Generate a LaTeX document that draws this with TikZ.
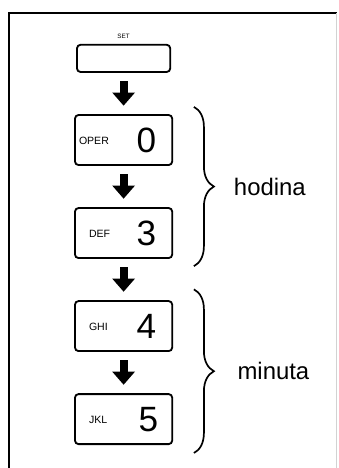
\documentclass[tikz,border=0pt]{standalone}
\usepackage{fontspec}
\setmainfont{Liberation Sans}
\usetikzlibrary{positioning,arrows.meta,decorations.pathreplacing}
\newcommand{\keylabel}[1]{\raisebox{0.2cm}{\fontsize{7.5}{8}\selectfont #1}}

\begin{document}
\begin{tikzpicture}[>=Latex, node distance=1.03cm, every node/.style={font=\small}]
      \tikzstyle{keybox}=[draw, line width=1.3pt, rounded corners=2.5pt, minimum height=1.25cm, inner xsep=0.1cm, text width=2.23cm, font=\fontsize{25}{25}\selectfont]
      \tikzstyle{bigarrow}=[-{Triangle[width=0.55cm,length=0.33cm]}, line width=0.2cm, shorten <=0.21cm, shorten >=0.21cm]
      \tikzstyle{bracket}=[decorate, decoration={brace, amplitude=0.5cm}, line width=1.2pt]
      \tikzstyle{bracetext}=[inner sep=0, font=\fontsize{17}{20}\selectfont]
      \useasboundingbox (0,0) rectangle (8.45,11.7);
      % frame
      \draw[line width=1pt] (0.225,0) -- (0.225,11.375) -- (8.43,11.375);
      \draw[gray!35, line width=0.6pt] (8.4,11.375) -- (8.4,0);

      \node[draw, line width=1.3pt, rounded corners=2.5pt, minimum width=2.33cm, minimum height=0.68cm] (set) at (3.09,10.24) {};
      \node[above=0.12cm of set, inner sep=0, font=\fontsize{4.5}{5}\selectfont] (setlbl) {SET};
      \node[keybox, below=of set] (oper) {\keylabel{OPER}\hfill 0\hspace{0.3cm}\mbox{}};
      \node[keybox, below=of oper] (def) {\hspace*{0.25cm}\keylabel{DEF}\hfill 3\hspace{0.3cm}\mbox{}};
      \node[keybox, below=of def] (ghi) {\hspace*{0.25cm}\keylabel{GHI}\hfill 4\hspace{0.3cm}\mbox{}};
      \node[keybox, below=of ghi] (jkl) {\hspace*{0.25cm}\keylabel{JKL}\hfill 5\hspace{0.25cm}\mbox{}};

      \draw[bigarrow] (set) -- (oper);
      \draw[bigarrow] (oper) -- (def);
      \draw[bigarrow] (def) -- (ghi);
      \draw[bigarrow] (ghi) -- (jkl);

      \draw[bracket] ([xshift=0.52cm,yshift=0.18cm]oper.north east) -- ([xshift=0.52cm,yshift=-0.18cm]def.south east)
        node[bracetext, midway, right=0.98cm] (hodina) {hodina};
      \draw[bracket] ([xshift=0.52cm,yshift=0.27cm]ghi.north east) -- ([xshift=0.52cm,yshift=-0.2cm]jkl.south east)
        node[bracetext, midway, right=1.07cm] (minuta) {minuta};
    \end{tikzpicture}
\end{document}
